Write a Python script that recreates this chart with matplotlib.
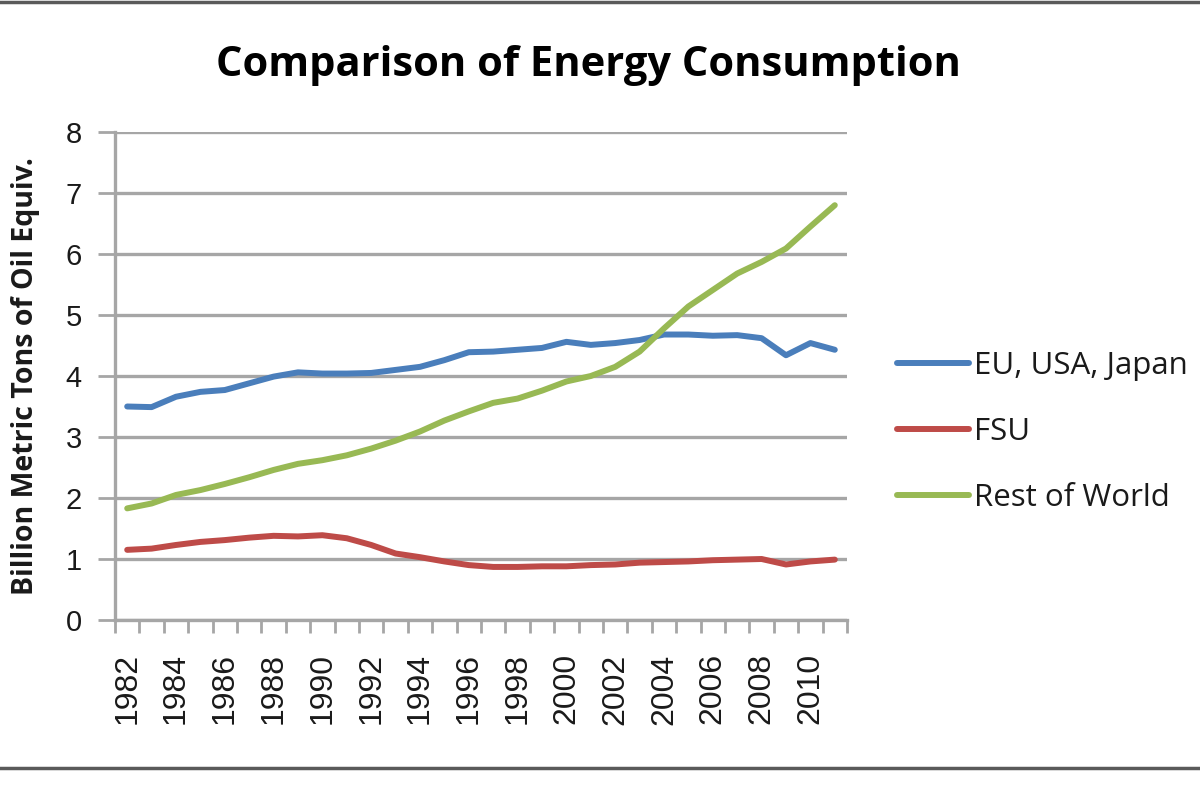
import matplotlib
matplotlib.use("Agg")
import matplotlib.pyplot as plt
from matplotlib.lines import Line2D

# ── Data ──────────────────────────────────────────────────────────────────────
years = list(range(1982, 2012))

eu_usa_japan = [3.50, 3.49, 3.66, 3.74, 3.77, 3.88, 3.99, 4.06, 4.04, 4.04,
                4.05, 4.10, 4.15, 4.26, 4.39, 4.40, 4.43, 4.46, 4.56, 4.51,
                4.54, 4.59, 4.68, 4.68, 4.66, 4.67, 4.62, 4.34, 4.54, 4.43]
fsu = [1.15, 1.17, 1.23, 1.28, 1.31, 1.35, 1.38, 1.37, 1.39, 1.34,
       1.23, 1.09, 1.03, 0.96, 0.90, 0.87, 0.87, 0.88, 0.88, 0.90,
       0.91, 0.94, 0.95, 0.96, 0.98, 0.99, 1.00, 0.91, 0.96, 0.99]
rest_of_world = [1.83, 1.91, 2.05, 2.13, 2.23, 2.34, 2.46, 2.56, 2.62, 2.70,
                 2.81, 2.94, 3.09, 3.27, 3.42, 3.56, 3.63, 3.76, 3.91, 4.00,
                 4.15, 4.40, 4.78, 5.14, 5.41, 5.68, 5.87, 6.09, 6.45, 6.80]

series_names = ["EU, USA, Japan", "FSU", "Rest of World"]
yticks = list(range(0, 9))
xtick_years = years[::2]

# ── Style ─────────────────────────────────────────────────────────────────────
_BLUE = "#4a7ebb"
_RED = "#be4b48"
_GREEN = "#98b954"
_GRID = "#a6a6a6"
_TEXT = "#1a1a1a"
_LW = 4.3

fig = plt.figure(figsize=(12, 8), dpi=100)
fig.patch.set_facecolor("white")
ax = fig.add_axes([115 / 1200, 1 - 620 / 800, (847 - 115) / 1200, (620 - 132) / 800])

for vals, color, name in zip([eu_usa_japan, fsu, rest_of_world],
                             [_BLUE, _RED, _GREEN], series_names):
    ax.plot(years, vals, color=color, linewidth=_LW, label=name,
            solid_capstyle="round", solid_joinstyle="round", zorder=3)

ax.set_xlim(years[0] - 0.5, years[-1] + 0.5)
ax.set_ylim(0, 8)
ax.set_yticks(yticks)
ax.set_yticklabels([str(v) for v in yticks], fontsize=21, family="Liberation Sans",
                   color=_TEXT)
ax.yaxis.grid(True, color=_GRID, linewidth=2.4)
ax.set_axisbelow(True)

# category axis: ticks between categories, labels on every other year
ax.set_xticks([y - 0.5 for y in years] + [years[-1] + 0.5])
ax.set_xticklabels([])
ax.set_xticks(xtick_years, minor=True)
ax.set_xticklabels([str(y) for y in xtick_years], minor=True, rotation=90,
                   fontsize=23, family="Liberation Sans", color=_TEXT)
ax.tick_params(axis="x", which="major", direction="out", length=9, width=2,
               color=_GRID)
ax.tick_params(axis="x", which="minor", length=0, pad=24)
ax.tick_params(axis="y", direction="out", length=12, width=2, color=_GRID, pad=12)

for side in ["top", "right"]:
    ax.spines[side].set_visible(False)
for side in ["left", "bottom"]:
    ax.spines[side].set_color(_GRID)
    ax.spines[side].set_linewidth(2.4)

ax.set_ylabel("Billion Metric Tons of Oil Equiv.", fontsize=20.5, fontweight="bold",
              family="Open Sans", color=_TEXT, labelpad=18)

fig.text(588 / 1200, 1 - 65 / 800, "Comparison of Energy Consumption",
         ha="center", va="center", fontsize=30, fontweight="bold",
         family="Open Sans", color="black")

leg = ax.legend(loc="center left", bbox_to_anchor=(897 / 1200, 1 - 432 / 800),
                bbox_transform=fig.transFigure, frameon=False,
                handlelength=2.3, handletextpad=0.15, labelspacing=1.15,
                borderpad=0, borderaxespad=0,
                prop={"family": "Open Sans", "size": 22.5})
for txt in leg.get_texts():
    txt.set_color(_TEXT)
for h in leg.get_lines():
    h.set_linewidth(_LW)

# page frame lines at top and bottom
for yy in (1 - 2 / 800, 1 - 768 / 800):
    fig.add_artist(Line2D([0, 1], [yy, yy], transform=fig.transFigure,
                          color="#5a5a5a", linewidth=2.5))

fig.savefig("out.png", dpi=100, facecolor="white")
